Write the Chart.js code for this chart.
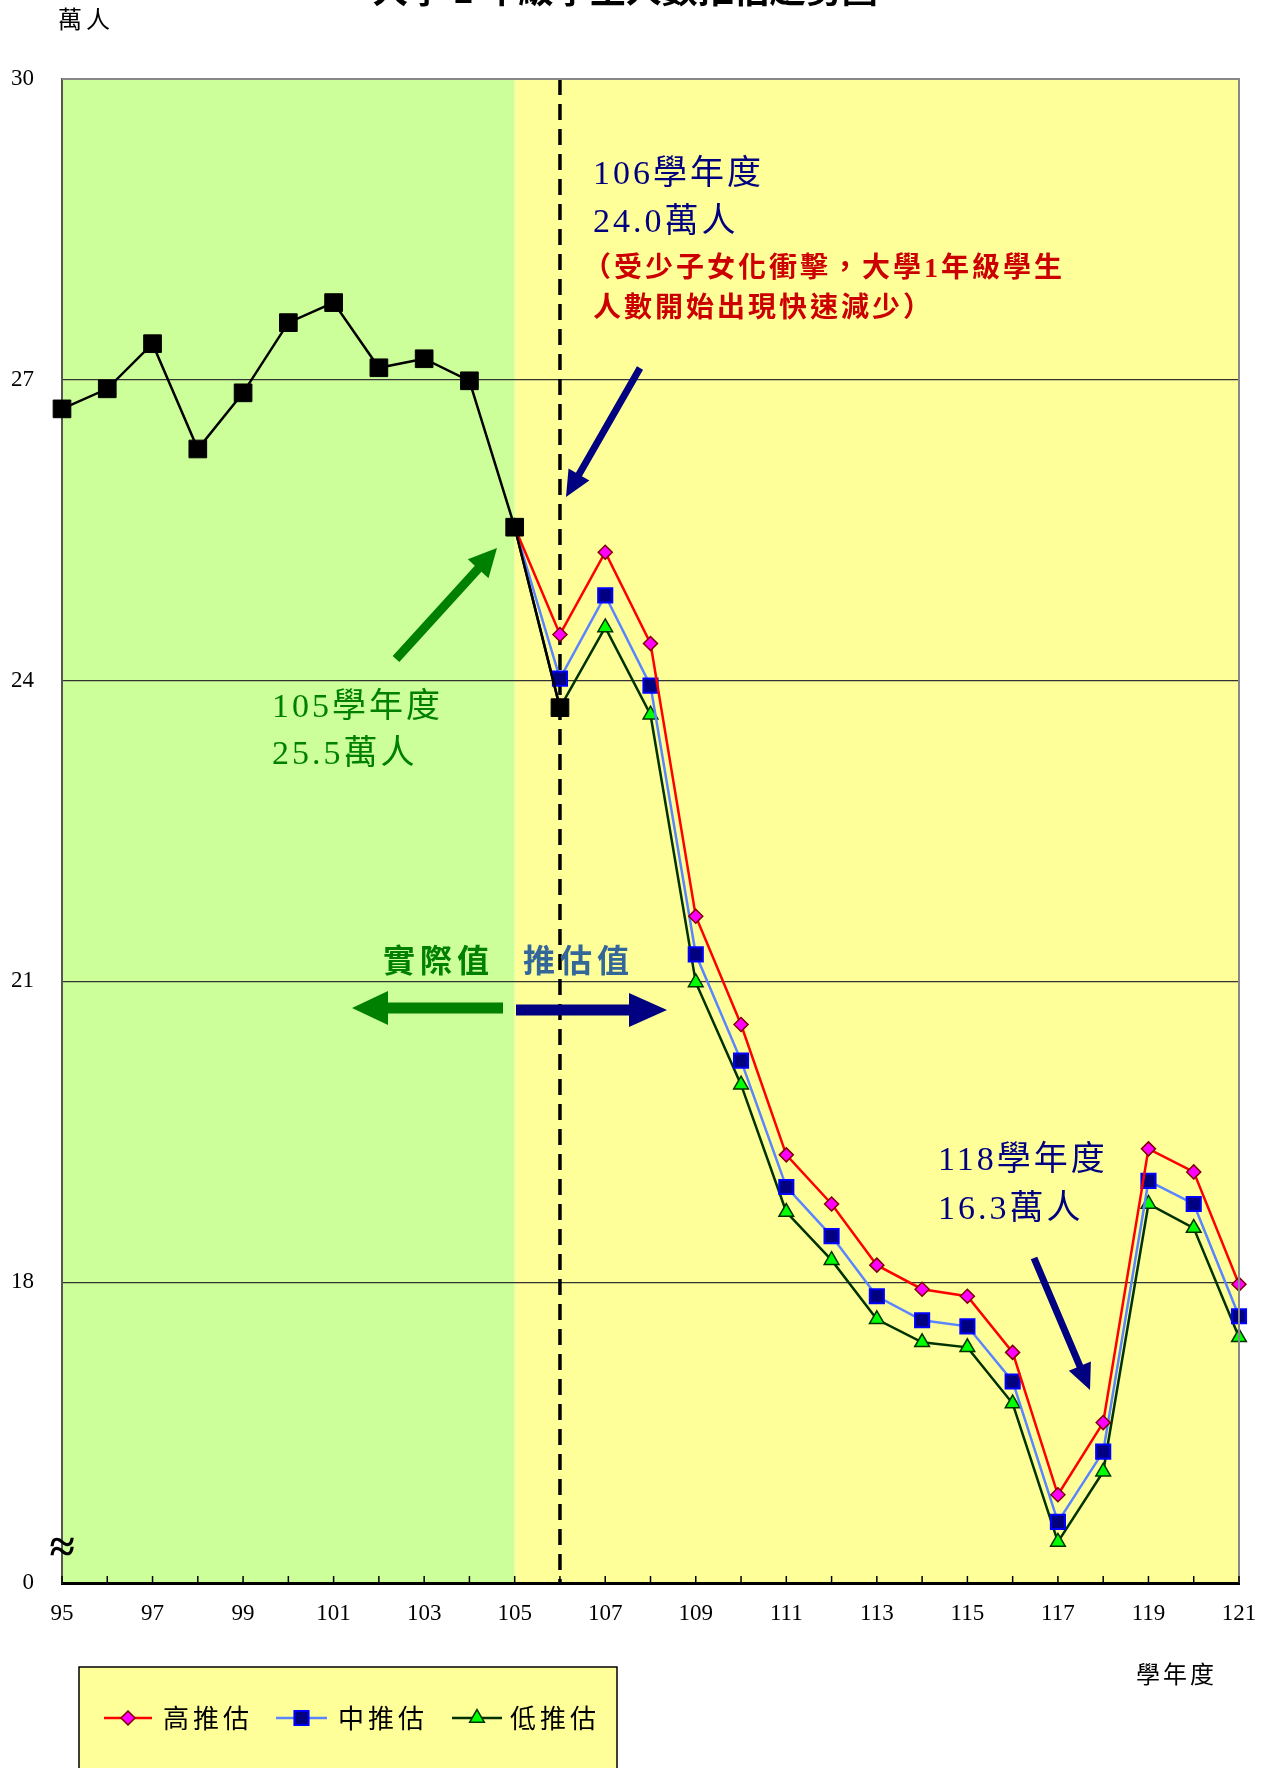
<!DOCTYPE html>
<html>
<head>
<meta charset="utf-8">
<script src="https://cdn.jsdelivr.net/npm/chart.js@4.4.1/dist/chart.umd.min.js"></script>
<style>
  html, body { margin: 0; padding: 0; background: #fff; }
  canvas { display: block; }
</style>
</head>
<body>
<canvas id="graphJs" width="1268" height="1768"></canvas>
<script>
// school years 95..121
const years = ['95','96','97','98','99','100','101','102','103','104','105','106','107','108',
  '109','110','111','112','113','114','115','116','117','118','119','120','121'];
// actual values, 95..106 (萬人)
const actualValues = [26.71, 26.91, 27.36, 26.31, 26.87, 27.57, 27.77, 27.12, 27.21, 26.99, 25.53, 23.73];
// projections, 105..121
const highValues = [25.53, 24.46, 25.28, 24.37, 21.65, 20.57, 19.27, 18.78, 18.17, 17.93, 17.86, 17.30, 15.88, 16.60, 19.33, 19.10, 17.98];
const midValues  = [25.53, 24.02, 24.85, 23.95, 21.27, 20.21, 18.95, 18.46, 17.86, 17.62, 17.56, 17.01, 15.61, 16.31, 19.01, 18.78, 17.66];
const lowValues  = [25.53, 23.73, 24.53, 23.66, 20.99, 19.97, 18.70, 18.22, 17.63, 17.40, 17.35, 16.79, 15.41, 16.11, 18.78, 18.54, 17.45];
// y axis is broken: bottom (15) is shown as 0
const yTicks = [15, 18, 21, 24, 27, 30];
const yTickLabels = ['0', '18', '21', '24', '27', '30'];
const seriesNames = ['高推估', '中推估', '低推估'];

const FONT = '"Liberation Serif", "Noto Sans CJK TC", serif';
const CJK = '"Noto Sans CJK TC", "Liberation Serif", sans-serif';

const actualData = years.map((y, i) => i < actualValues.length ? actualValues[i] : null);
const startIdx = years.indexOf('105');
function proj(vals) {
  return years.map((y, i) => i >= startIdx ? vals[i - startIdx] : null);
}

function arrow(ctx, x1, y1, x2, y2, w, hl, hw, color) {
  const ang = Math.atan2(y2 - y1, x2 - x1);
  const len = Math.hypot(x2 - x1, y2 - y1);
  ctx.save();
  ctx.translate(x1, y1);
  ctx.rotate(ang);
  ctx.beginPath();
  ctx.moveTo(0, -w / 2);
  ctx.lineTo(len - hl, -w / 2);
  ctx.lineTo(len - hl, -hw / 2);
  ctx.lineTo(len, 0);
  ctx.lineTo(len - hl, hw / 2);
  ctx.lineTo(len - hl, w / 2);
  ctx.lineTo(0, w / 2);
  ctx.closePath();
  ctx.fillStyle = color;
  ctx.fill();
  ctx.restore();
}

function text(ctx, str, x, y, font, color, spacing, align) {
  ctx.save();
  ctx.font = font;
  ctx.fillStyle = color;
  ctx.letterSpacing = (spacing || 0) + 'px';
  ctx.textAlign = align || 'left';
  ctx.textBaseline = 'middle';
  ctx.fillText(str, x, y);
  ctx.restore();
}

const backdrop = {
  id: 'backdrop',
  beforeDraw(chart) {
    const {ctx, chartArea: a, scales: {x}} = chart;
    const split = x.getPixelForValue(startIdx);
    ctx.save();
    ctx.fillStyle = '#CCFF99';
    ctx.fillRect(a.left, a.top, split - a.left, a.bottom - a.top);
    ctx.fillStyle = '#FFFF99';
    ctx.fillRect(split, a.top, a.right - split, a.bottom - a.top);
    ctx.restore();
  },
  beforeDatasetsDraw(chart) {
    const {ctx, chartArea: a, scales: {x}} = chart;
    const px = x.getPixelForValue(years.indexOf('106'));
    ctx.save();
    ctx.strokeStyle = '#000';
    ctx.lineWidth = 3.5;
    ctx.setLineDash([16, 9]);
    ctx.beginPath();
    ctx.moveTo(px, a.top);
    ctx.lineTo(px, a.bottom);
    ctx.stroke();
    ctx.restore();
  }
};

const decorations = {
  id: 'decorations',
  afterDraw(chart) {
    const {ctx, chartArea: a, scales: {x}} = chart;
    ctx.save();
    // frame top/right
    ctx.strokeStyle = '#888';
    ctx.lineWidth = 2;
    ctx.beginPath();
    ctx.moveTo(a.left, a.top);
    ctx.lineTo(a.right, a.top);
    ctx.lineTo(a.right, a.bottom);
    ctx.stroke();
    // inward ticks
    ctx.strokeStyle = '#000';
    ctx.lineWidth = 1.5;
    years.forEach((y, i) => {
      const px = x.getPixelForValue(i);
      ctx.beginPath();
      ctx.moveTo(px, a.bottom);
      ctx.lineTo(px, a.bottom - 7);
      ctx.stroke();
    });
    ctx.restore();

    // title (cut off at the top)
    ctx.save();
    ctx.font = 'bold 36px ' + CJK;
    ctx.fillStyle = '#000';
    ctx.textAlign = 'center';
    ctx.textBaseline = 'alphabetic';
    ctx.fillText('大學 1 年級學生人數推估趨勢圖', 625, 3);
    ctx.restore();

    text(ctx, '萬人', 58, 19, '24px ' + CJK, '#000', 4);
    text(ctx, '學年度', 1136, 1674, '24px ' + CJK, '#000', 3);
    text(ctx, '≈', 62, 1550, 'bold 46px ' + FONT, '#000', 0, 'center');

    // 106 note
    text(ctx, '106學年度', 593, 175, '34px ' + FONT, '#000080', 3);
    text(ctx, '24.0萬人', 593, 223, '34px ' + FONT, '#000080', 3);
    text(ctx, '（受少子女化衝擊，大學1年級學生', 583, 270, 'bold 28px ' + FONT, '#CC0000', 3);
    text(ctx, '人數開始出現快速減少）', 593, 310, 'bold 28px ' + FONT, '#CC0000', 3);
    arrow(ctx, 640, 368, 566, 497, 7, 26, 24, '#000080');

    // 105 note
    text(ctx, '105學年度', 272, 708, '34px ' + FONT, '#008000', 3);
    text(ctx, '25.5萬人', 272, 755, '34px ' + FONT, '#008000', 3);
    arrow(ctx, 396, 659, 497, 548, 9, 28, 28, '#008000');

    // actual / projected
    text(ctx, '實際值', 383, 960, 'bold 32px ' + CJK, '#008000', 5);
    text(ctx, '推估值', 523, 960, 'bold 32px ' + CJK, '#336699', 5);
    arrow(ctx, 503, 1008, 352, 1008, 11, 36, 34, '#008000');
    arrow(ctx, 516, 1010, 667, 1010, 11, 38, 34, '#000080');

    // 118 note
    text(ctx, '118學年度', 938, 1161, '34px ' + FONT, '#000080', 3);
    text(ctx, '16.3萬人', 938, 1210, '34px ' + FONT, '#000080', 3);
    arrow(ctx, 1034, 1258, 1090, 1390, 7, 26, 24, '#000080');

    // legend box
    ctx.save();
    ctx.fillStyle = '#FFFF99';
    ctx.strokeStyle = '#000';
    ctx.lineWidth = 1.5;
    ctx.fillRect(79, 1667, 538, 120);
    ctx.strokeRect(79, 1667, 538, 120);
    ctx.restore();
    const ly = 1718;
    const items = [
      {x1: 104, x2: 152, tx: 163, ds: chart.data.datasets[1]},
      {x1: 276, x2: 327, tx: 338, ds: chart.data.datasets[2]},
      {x1: 452, x2: 502, tx: 510, ds: chart.data.datasets[3]}
    ];
    items.forEach((it, i) => {
      ctx.save();
      ctx.strokeStyle = it.ds.borderColor;
      ctx.lineWidth = 2.5;
      ctx.beginPath();
      ctx.moveTo(it.x1, ly);
      ctx.lineTo(it.x2, ly);
      ctx.stroke();
      ctx.fillStyle = it.ds.pointBackgroundColor;
      ctx.strokeStyle = it.ds.pointBorderColor;
      ctx.lineWidth = it.ds.pointBorderWidth;
      ctx.beginPath();
      const cx = (it.x1 + it.x2) / 2, r = it.ds.pointRadius;
      if (it.ds.pointStyle === 'rectRot') {
        ctx.moveTo(cx, ly - r); ctx.lineTo(cx + r, ly); ctx.lineTo(cx, ly + r); ctx.lineTo(cx - r, ly);
      } else if (it.ds.pointStyle === 'rect') {
        const s = r * Math.SQRT1_2;
        ctx.rect(cx - s, ly - s, 2 * s, 2 * s);
      } else {
        ctx.moveTo(cx, ly - r);
        ctx.lineTo(cx + r * Math.sin(2 * Math.PI / 3), ly - r * Math.cos(2 * Math.PI / 3));
        ctx.lineTo(cx + r * Math.sin(4 * Math.PI / 3), ly - r * Math.cos(4 * Math.PI / 3));
      }
      ctx.closePath();
      ctx.fill();
      ctx.stroke();
      ctx.restore();
      text(ctx, seriesNames[i], it.tx, ly, '26px ' + CJK, '#000', 4);
    });
  }
};

new Chart('graphJs', {
  type: 'line',
  data: {
    labels: years,
    datasets: [
      {
        label: '實際值',
        data: actualData,
        borderColor: '#000',
        borderWidth: 2.5,
        pointStyle: 'rect',
        pointRadius: 12.5,
        pointBackgroundColor: '#000',
        pointBorderColor: '#000',
        pointBorderWidth: 1,
        spanGaps: false
      },
      {
        label: seriesNames[0],
        data: proj(highValues),
        borderColor: '#FF0000',
        borderWidth: 2.5,
        pointStyle: 'rectRot',
        pointRadius: 7,
        pointBackgroundColor: '#FF00FF',
        pointBorderColor: '#800000',
        pointBorderWidth: 1.5
      },
      {
        label: seriesNames[1],
        data: proj(midValues),
        borderColor: '#5B85FF',
        borderWidth: 2.5,
        pointStyle: 'rect',
        pointRadius: 10,
        pointBackgroundColor: '#000080',
        pointBorderColor: '#0000FF',
        pointBorderWidth: 2
      },
      {
        label: seriesNames[2],
        data: proj(lowValues),
        borderColor: '#003300',
        borderWidth: 2.5,
        pointStyle: 'triangle',
        pointRadius: 8.5,
        pointBackgroundColor: '#00FF00',
        pointBorderColor: '#003300',
        pointBorderWidth: 1.5
      }
    ]
  },
  options: {
    responsive: false,
    animation: false,
    devicePixelRatio: 1,
    layout: { padding: { top: 79, left: 0, right: 29, bottom: 0 } },
    elements: { line: { tension: 0 } },
    plugins: {
      legend: { display: false },
      tooltip: { enabled: false },
      title: { display: false }
    },
    scales: {
      x: {
        type: 'category',
        offset: false,
        afterFit(scale) {
          scale.height = 185;
          scale.paddingLeft = 0;
          scale.paddingRight = 0;
        },
        grid: { display: false, drawTicks: false },
        border: { display: true, color: '#000', width: 3 },
        ticks: {
          autoSkip: false,
          maxRotation: 0,
          padding: 17,
          color: '#000',
          font: { family: FONT, size: 23 },
          callback(v, i) { return i % 2 === 0 ? years[i] : ''; }
        }
      },
      y: {
        min: 15,
        max: 30,
        afterFit(scale) {
          scale.width = 62;
          scale.paddingTop = 0;
          scale.paddingBottom = 0;
        },
        afterBuildTicks(scale) { scale.ticks = yTicks.map(v => ({value: v})); },
        grid: {
          drawTicks: false,
          color(c) { return (c.tick && (c.tick.value === 15 || c.tick.value === 30)) ? 'rgba(0,0,0,0)' : '#333'; },
          lineWidth: 1.2
        },
        border: { display: true, color: '#555', width: 2 },
        ticks: {
          padding: 28,
          color: '#000',
          font: { family: FONT, size: 23 },
          callback(v) { const k = yTicks.indexOf(v); return k >= 0 ? yTickLabels[k] : ''; }
        }
      }
    }
  },
  plugins: [backdrop, decorations]
});
</script>
</body>
</html>
